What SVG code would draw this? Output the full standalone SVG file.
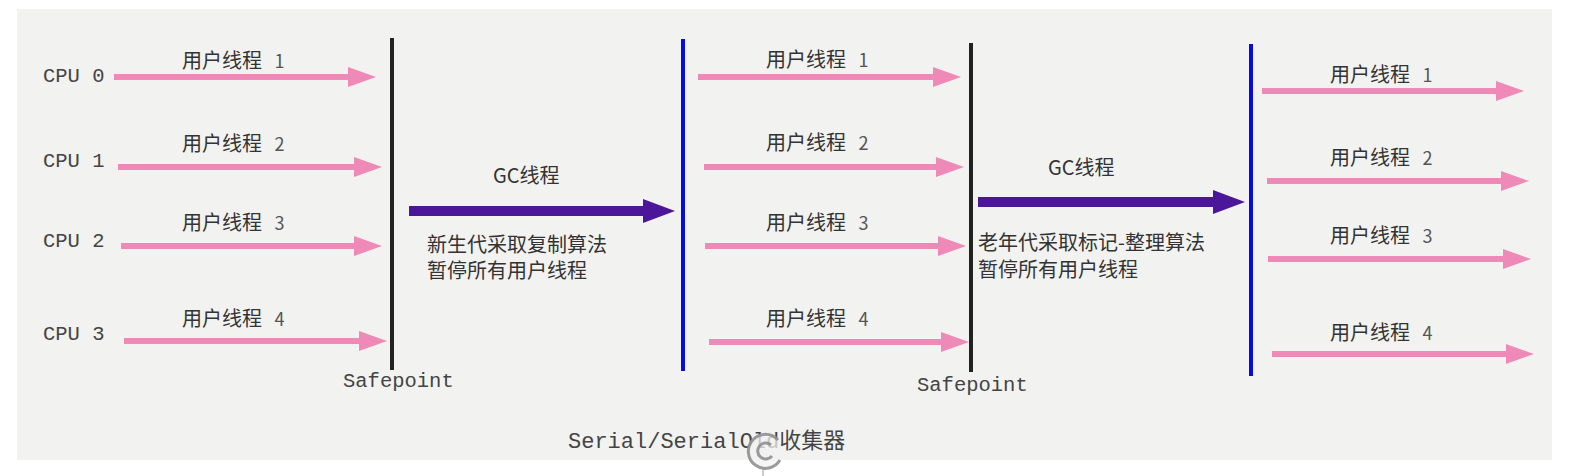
<svg xmlns="http://www.w3.org/2000/svg" width="1574" height="476" viewBox="0 0 1574 476">
<defs>
<marker id="pinkHead" markerUnits="userSpaceOnUse" markerWidth="30" markerHeight="22" viewBox="0 -11 30 22" refX="1" refY="0" orient="auto">
<path d="M0,-10 L28,0 L0,10 z" fill="#ef8ab8"/>
</marker>
<marker id="gcHead" markerUnits="userSpaceOnUse" markerWidth="34" markerHeight="28" viewBox="0 -14 34 28" refX="1" refY="0" orient="auto">
<path d="M0,-12 L32,0 L0,12 z" fill="#4b1699"/>
</marker>
</defs>
<style>
.user{stroke:#ef8ab8;stroke-width:6;fill:none;marker-end:url(#pinkHead)}
.gc{stroke:#4b1699;stroke-width:10;fill:none;marker-end:url(#gcHead)}
.sp{stroke:#222;stroke-width:4}
.bl{stroke:#0a0adf;stroke-width:4}
.cjk{font-family:"Noto Sans CJK SC","Noto Sans",sans-serif;font-size:20px;fill:#333}
.lbl{font-family:"Noto Sans CJK SC","Noto Sans",sans-serif;font-size:20px;fill:#333}
.num{fill:#555;font-size:18px}
.mono{font-family:"Liberation Mono","DejaVu Sans Mono",monospace;font-size:20.5px;fill:#444}
</style>
<rect x="0" y="0" width="1574" height="476" fill="#ffffff"/>
<rect x="17" y="9" width="1535" height="451" fill="#f2f2f1"/>

<g id="connectors">
<line class="user" x1="114" y1="77" x2="349" y2="77"/>
<line class="user" x1="118" y1="167" x2="355" y2="167"/>
<line class="user" x1="121" y1="246" x2="355" y2="246"/>
<line class="user" x1="124" y1="341" x2="360" y2="341"/>
<line class="user" x1="698" y1="77" x2="934" y2="77"/>
<line class="user" x1="704" y1="167" x2="937" y2="167"/>
<line class="user" x1="705" y1="246" x2="939" y2="246"/>
<line class="user" x1="709" y1="342" x2="942" y2="342"/>
<line class="user" x1="1262" y1="91" x2="1497" y2="91"/>
<line class="user" x1="1267" y1="181" x2="1502" y2="181"/>
<line class="user" x1="1268" y1="259" x2="1504" y2="259"/>
<line class="user" x1="1272" y1="354" x2="1507" y2="354"/>
<line class="gc" x1="409" y1="211" x2="644" y2="211"/>
<line class="gc" x1="978" y1="202" x2="1214" y2="202"/>
</g>

<g id="safepoint1">
<line class="sp" x1="392" y1="38" x2="392" y2="370"/>
<text class="mono" x="343" y="387">Safepoint</text>
</g>
<g id="resume1">
<line class="bl" x1="683" y1="39" x2="683" y2="371"/>
</g>
<g id="safepoint2">
<line class="sp" x1="971" y1="43" x2="971" y2="372"/>
<text class="mono" x="917" y="391">Safepoint</text>
</g>
<g id="resume2">
<line class="bl" x1="1251" y1="44" x2="1251" y2="376"/>
</g>

<g id="cpus">
<text class="mono" x="43" y="82">CPU 0</text>
<text class="mono" x="43" y="167">CPU 1</text>
<text class="mono" x="43" y="247">CPU 2</text>
<text class="mono" x="43" y="340">CPU 3</text>
</g>

<g id="labels-left">
<text class="lbl" x="182" y="68">用户线程 <tspan class="num" dx="8">1</tspan></text>
<text class="lbl" x="182" y="151">用户线程 <tspan class="num" dx="8">2</tspan></text>
<text class="lbl" x="182" y="230">用户线程 <tspan class="num" dx="8">3</tspan></text>
<text class="lbl" x="182" y="326">用户线程 <tspan class="num" dx="8">4</tspan></text>
</g>
<g id="labels-mid">
<text class="lbl" x="766" y="67">用户线程 <tspan class="num" dx="8">1</tspan></text>
<text class="lbl" x="766" y="150">用户线程 <tspan class="num" dx="8">2</tspan></text>
<text class="lbl" x="766" y="230">用户线程 <tspan class="num" dx="8">3</tspan></text>
<text class="lbl" x="766" y="326">用户线程 <tspan class="num" dx="8">4</tspan></text>
</g>
<g id="labels-right">
<text class="lbl" x="1330" y="82">用户线程 <tspan class="num" dx="8">1</tspan></text>
<text class="lbl" x="1330" y="165">用户线程 <tspan class="num" dx="8">2</tspan></text>
<text class="lbl" x="1330" y="243">用户线程 <tspan class="num" dx="8">3</tspan></text>
<text class="lbl" x="1330" y="340">用户线程 <tspan class="num" dx="8">4</tspan></text>
</g>

<g id="gc1">
<text class="cjk" x="493" y="183">GC线程</text>
<text class="cjk" x="427" y="252">新生代采取复制算法</text>
<text class="cjk" x="427" y="278">暂停所有用户线程</text>
</g>
<g id="gc2">
<text class="cjk" x="1048" y="175">GC线程</text>
<text class="cjk" x="978" y="250">老年代采取标记-整理算法</text>
<text class="cjk" x="978" y="277">暂停所有用户线程</text>
</g>

<g id="title">
<text x="568" y="448" style="font-family:'Liberation Mono','Noto Sans CJK SC',monospace;font-size:22px;fill:#444">Serial/SerialOld<tspan style="font-family:'Noto Sans CJK SC',sans-serif">收集器</tspan></text>
</g>
<g id="watermark">
<circle cx="765" cy="450" r="17" fill="#f2f2f1" opacity="0.75"/>
<g fill="none" stroke="#8a8a8a" stroke-width="3" opacity="0.85">
<path d="M778,440 A17,17 0 1 0 780,460"/>
<path d="M771,445 A8,8 0 1 0 772,456"/>
<line x1="763" y1="467" x2="763" y2="476" stroke-width="1"/>
</g>
</g>
</svg>
